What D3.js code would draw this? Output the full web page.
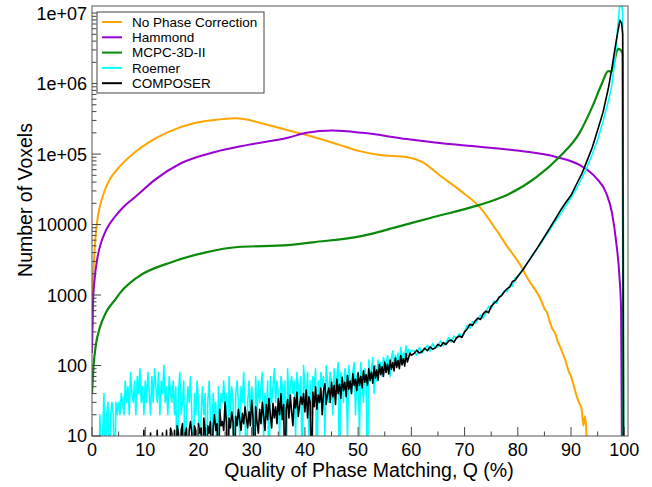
<!DOCTYPE html>
<html>
<head>
<meta charset="utf-8">
<script src="https://cdn.jsdelivr.net/npm/d3@7"></script>
<style>
  body { margin: 0; background: #fff; }
  svg { display: block; font-family: "Liberation Sans", Arial, Helvetica, sans-serif; }
</style>
</head>
<body>
<svg id="chart" width="652" height="487"></svg>
<script>
// ---- data (Q in %, counts) ----
const seriesNames = ['No Phase Correction', 'Hammond', 'MCPC-3D-II', 'Roemer', 'COMPOSER'];
const seriesColors = ['#ffa500', '#9a00d4', '#0a8a0a', '#00ffff', '#000000'];

const xTicks = [0, 10, 20, 30, 40, 50, 60, 70, 80, 90, 100];
const yTicks = [10, 100, 1000, 10000, 1e5, 1e6, 1e7];
const yTickLabels = ['10', '100', '1000', '10000', '1e+05', '1e+06', '1e+07'];

// No Phase Correction
const orangeQ = [0, 0.25, 0.5, 0.8, 1.1, 2, 3, 5.4, 8, 10.5, 14.3, 19.3, 23, 26.8, 29, 31.7, 36.8, 40.3, 46.5, 50.3,
  54, 59.1, 62.1, 65.3, 69, 72.8, 76, 78, 80.3, 82, 84.1, 84.5, 85, 85.5, 86, 86.5, 87, 87.5, 88, 88.5,
  89, 89.5, 90, 90.5, 91, 91.5, 92, 92.3, 92.6, 92.9, 93.2];
const orangeV = [1000, 2000, 4500, 8500, 12900, 25000, 39000, 69000, 105000, 144000, 205000, 275000, 305000, 323000, 310000, 275000, 218000, 186000, 135000, 110000,
  97000, 91000, 77000, 50000, 31000, 17800, 8300, 4900, 2800, 1650, 930, 800, 640, 560, 420, 330, 290, 220, 180, 145,
  115, 85, 70, 52, 38, 30, 24, 14, 19, 11, 2];

// Hammond
const purpleQ = [0, 0.2, 0.5, 1, 1.7, 2.7, 4.3, 6, 8.1, 11.8, 16.7, 23.1, 29.3, 36.8, 40.3, 45.2, 50.8, 59.1, 65.3, 72.8,
  80.3, 87.2, 91.6, 94.7, 96.6, 97.7, 98.5, 99.1, 99.4, 99.6];
const purpleV = [150, 800, 1700, 3300, 5500, 8500, 12900, 18000, 24500, 43000, 74000, 107000, 135000, 170000, 200000, 215000, 200000, 163000, 143000, 127000,
  111000, 91000, 70000, 46000, 28000, 14500, 5500, 1800, 610, 2];

// MCPC-3D-II
const greenQ = [0, 0.3, 0.7, 1.5, 2.6, 4.3, 5.4, 8.6, 14.8, 21.2, 27.4, 36.8, 41.5, 50.8, 57.2, 63.4, 72.8, 77.1, 83.5, 87.8,
  91.6, 94, 95.7, 97, 97.6, 98.1, 98.6, 98.9, 99.3, 99.7, 99.85];
const greenV = [40, 100, 190, 350, 560, 850, 1100, 1800, 2900, 4000, 4800, 5100, 5600, 6900, 9200, 12300, 19000, 24500, 47000, 91000,
  200000, 470000, 960000, 1.5e6, 1.48e6, 2.0e6, 2.9e6, 3.1e6, 3.0e6, 2.6e6, 2];

// Roemer: noisy low part (step 0.25 from Q=0), medium part (step 0.5 from Q=60.5), smooth tail
const roemerLow = [
  0, 0, 0, 0, 0, 0, 20, 0, 10, 40, 0, 20, 30, 0, 20, 30, 20, 0, 30, 20,
  30, 20, 40, 30, 20, 60, 30, 50, 20, 80, 40, 30, 60, 20, 70, 40, 90, 30, 50, 20,
  60, 30, 80, 40, 20, 70, 30, 90, 50, 30, 80, 20, 60, 40, 100, 30, 50, 20, 70, 40,
  30, 60, 20, 50, 0, 40, 80, 20, 30, 60, 0, 20, 50, 30, 70, 20, 0, 40, 20, 60,
  30, 0, 20, 50, 20, 40, 0, 30, 60, 20, 0, 40, 20, 30, 0, 50, 20, 40, 30, 60,
  20, 40, 0, 70, 20, 50, 30, 0, 40, 60, 30, 10, 50, 30, 80, 20, 0, 30, 60, 20,
  50, 30, 0, 70, 20, 60, 30, 50, 80, 10, 40, 20, 60, 0, 70, 30, 50, 90, 30, 60,
  40, 10, 70, 50, 20, 60, 0, 90, 30, 50, 70, 40, 60, 10, 80, 50, 30, 70, 0, 100,
  50, 30, 80, 10, 60, 20, 70, 50, 90, 0, 60, 30, 80, 50, 70, 10, 100, 60, 30, 80,
  60, 20, 90, 50, 70, 110, 0, 80, 60, 30, 90, 70, 10, 100, 60, 40, 80, 110, 20, 70,
  80, 10, 110, 60, 30, 90, 70, 0, 120, 60, 90, 130, 40, 100, 60, 120, 80, 110, 70, 130,
  110, 80, 140, 100, 70, 130, 160, 90, 140, 110, 150, 100, 180, 120, 150, 130, 190, 140, 170, 150,
  165];
const roemerMid = [
  160, 140, 182, 150, 170, 195, 160, 205, 178, 185,
  225, 190, 212, 250, 215, 262, 240, 285, 258, 305,
  372, 335, 420, 395, 455, 520, 470, 560, 690, 640,
  830, 760, 925, 1010, 1150, 1120, 1400, 1330, 1750, 1820];
const roemerQ = [81, 82, 83, 84, 85, 86, 87, 88, 89, 90, 91, 92, 93, 94, 95, 96, 97, 97.6, 98.2, 98.7,
  99.0, 99.2, 99.5, 99.7, 99.85];
const roemerV = [2350, 3000, 3850, 4950, 6500, 8400, 11000, 14000, 18500, 24000, 32000, 45000, 65000, 100000, 160000, 290000, 560000, 890000, 2e6, 5.5e6,
  1e7, 1.4e7, 1.4e7, 1e7, 2];

// COMPOSER: noisy low part (step 0.25 from Q=9.5), medium part (step 0.5 from Q=60.5), smooth tail
const composerLow = [
  0, 12, 0, 0, 0, 0, 11, 0, 0, 0, 0, 12, 0, 0, 0, 11, 0, 0, 12, 0,
  0, 13, 11, 0, 12, 0, 14, 11, 0, 12, 15, 0, 11, 13, 0, 12, 16, 11, 0, 14,
  12, 0, 15, 11, 13, 0, 18, 12, 0, 14, 11, 16, 0, 13, 20, 12, 15, 0, 24, 14,
  16, 12, 30, 15, 0, 18, 13, 22, 16, 0, 19, 14, 24, 17, 12, 21, 15, 26, 18, 13,
  22, 14, 32, 18, 0, 26, 16, 11, 24, 15, 30, 19, 12, 28, 17, 34, 20, 13, 29, 18,
  26, 15, 34, 20, 40, 17, 28, 0, 24, 33, 18, 38, 22, 14, 35, 25, 42, 19, 27, 36,
  28, 40, 22, 45, 18, 36, 30, 0, 42, 26, 50, 24, 38, 30, 48, 20, 44, 55, 28, 40,
  48, 30, 58, 36, 52, 28, 64, 40, 54, 34, 68, 44, 58, 36, 72, 46, 60, 40, 76, 52,
  64, 44, 78, 52, 70, 48, 84, 58, 74, 52, 90, 62, 80, 56, 98, 66, 86, 62, 104, 74,
  96, 70, 112, 80, 104, 76, 120, 88, 110, 84, 128, 94, 118, 90, 138, 102, 126, 98, 148, 112,
  130, 150, 140];
const composerMid = [
  148, 165, 150, 158, 176, 162, 184, 170, 178, 200,
  188, 212, 198, 222, 230, 214, 248, 262, 250, 300,
  330, 385, 370, 430, 470, 450, 540, 590, 560, 690,
  760, 820, 930, 990, 1120, 1230, 1300, 1560, 1620, 1850];
const composerQ = [81, 82, 83, 84, 85, 86, 87, 88, 89, 90, 91, 92, 93, 94, 95, 96, 97, 97.7, 98.3, 98.8,
  99.2, 99.5, 99.7, 99.85];
const composerV = [2300, 3000, 3900, 5100, 6700, 8900, 11800, 15800, 20500, 26000, 37000, 52000, 80000, 125000, 220000, 390000, 850000, 1.7e6, 3.3e6, 5.5e6,
  7.9e6, 7.2e6, 5e6, 2];

// ---- helpers ----
function pairs(qs, vs) { return qs.map(function(q, i) { return [q, vs[i]]; }); }
function stepped(start, step, vs) { return vs.map(function(v, i) { return [start + i * step, v]; }); }

const series = [
  { pts: pairs(orangeQ, orangeV), w: 2, curve: d3.curveMonotoneX },
  { pts: pairs(purpleQ, purpleV), w: 2, curve: d3.curveMonotoneX },
  { pts: pairs(greenQ, greenV), w: 2.2, curve: d3.curveMonotoneX },
  { pts: stepped(0, 0.25, roemerLow).concat(stepped(60.5, 0.5, roemerMid), pairs(roemerQ, roemerV)), w: 1.6, curve: d3.curveLinear },
  { pts: stepped(9.5, 0.25, composerLow).concat(stepped(60.5, 0.5, composerMid), pairs(composerQ, composerV)), w: 1.6, curve: d3.curveLinear }
];

// ---- layout ----
const plotL = 92, plotR = 628, plotT = 6, plotB = 436;
const svg = d3.select('#chart');

const x = d3.scaleLinear().domain([0, 100.7]).range([plotL, plotR]);
const y = d3.scaleLog().domain([10, 1.26e7]).range([plotB, plotT]);

svg.append('rect').attr('width', 652).attr('height', 487).attr('fill', '#fff');

svg.append('clipPath').attr('id', 'plotclip')
  .append('rect').attr('x', plotL).attr('y', plotT).attr('width', plotR - plotL).attr('height', plotB - plotT);

// curves
const plot = svg.append('g').attr('clip-path', 'url(#plotclip)');
series.forEach(function(s, i) {
  const line = d3.line()
    .x(function(d) { return x(d[0]); })
    .y(function(d) { return y(Math.max(d[1], 2)); })
    .curve(s.curve);
  plot.append('path')
    .datum(s.pts)
    .attr('fill', 'none')
    .attr('stroke', seriesColors[i])
    .attr('stroke-width', s.w)
    .attr('stroke-linejoin', 'round')
    .attr('d', line);
});

// frame
svg.append('rect')
  .attr('x', plotL).attr('y', plotT)
  .attr('width', plotR - plotL).attr('height', plotB - plotT)
  .attr('fill', 'none').attr('stroke', '#555').attr('stroke-width', 1);

// x ticks (inside), major every 10, minor every 5
const axisCol = '#444';
const xg = svg.append('g');
d3.range(0, 101, 5).forEach(function(v) {
  const major = v % 10 === 0;
  xg.append('line')
    .attr('x1', x(v)).attr('x2', x(v))
    .attr('y1', plotB).attr('y2', plotB - (major ? 9 : 4.5))
    .attr('stroke', axisCol).attr('stroke-width', 1);
});
xg.selectAll('text.xl').data(xTicks).enter().append('text')
  .attr('x', function(d) { return x(d); })
  .attr('y', 455.5)
  .attr('text-anchor', 'middle')
  .attr('font-size', 18)
  .attr('fill', '#000')
  .text(function(d) { return d; });

// y ticks (inside), log minor ticks
const yg = svg.append('g');
yTicks.forEach(function(d) {
  yg.append('line')
    .attr('x1', plotL).attr('x2', plotL + 9)
    .attr('y1', y(d)).attr('y2', y(d))
    .attr('stroke', axisCol).attr('stroke-width', 1);
  if (d < 1e7) {
    d3.range(2, 10).forEach(function(k) {
      yg.append('line')
        .attr('x1', plotL).attr('x2', plotL + 4.5)
        .attr('y1', y(d * k)).attr('y2', y(d * k))
        .attr('stroke', axisCol).attr('stroke-width', 1);
    });
  }
});
yg.selectAll('text.yl').data(yTicks).enter().append('text')
  .attr('x', 87)
  .attr('y', function(d) { return y(d); })
  .attr('dy', '0.36em')
  .attr('text-anchor', 'end')
  .attr('font-size', 18)
  .attr('fill', '#000')
  .text(function(d, i) { return yTickLabels[i]; });

// axis titles
svg.append('text')
  .attr('x', 369).attr('y', 477)
  .attr('text-anchor', 'middle')
  .attr('font-size', 19.5)
  .text('Quality of Phase Matching, Q (%)');

svg.append('text')
  .attr('transform', 'translate(32,200) rotate(-90)')
  .attr('text-anchor', 'middle')
  .attr('font-size', 19.5)
  .text('Number of Voxels');

// legend
const legend = svg.append('g');
legend.append('rect')
  .attr('x', 97).attr('y', 12).attr('width', 167).attr('height', 81)
  .attr('fill', '#fff').attr('stroke', '#444').attr('stroke-width', 1);
seriesNames.forEach(function(name, i) {
  const ly = 22 + i * 15.3;
  legend.append('line')
    .attr('x1', 102).attr('x2', 122).attr('y1', ly).attr('y2', ly)
    .attr('stroke', seriesColors[i]).attr('stroke-width', 2);
  legend.append('text')
    .attr('x', 132).attr('y', ly).attr('dy', '0.36em')
    .attr('font-size', 13.5)
    .text(name);
});
</script>
</body>
</html>
